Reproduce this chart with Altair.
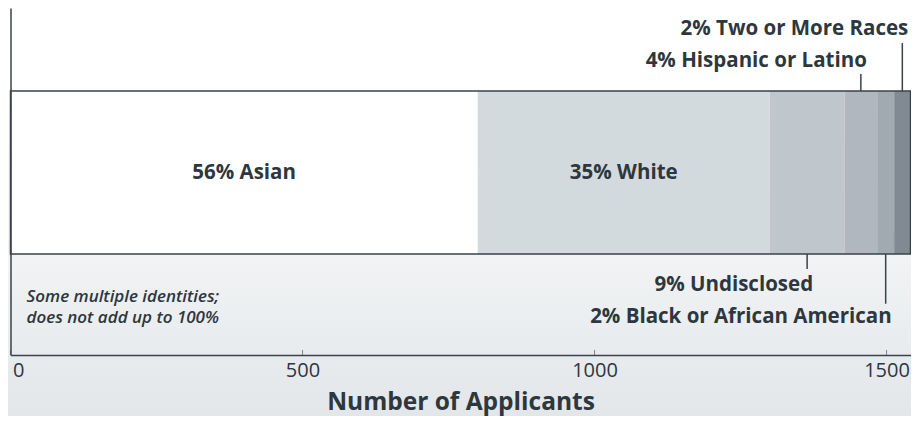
import altair as alt
import pandas as pd

# ---- data ----
categories = ["Asian", "White", "Undisclosed", "Hispanic or Latino",
              "Black or African American", "Two or More Races"]
counts = [800, 500, 128, 56, 29, 28]
percents = [56, 35, 9, 4, 2, 2]
tick_values = [0, 500, 1000, 1500]
note_lines = ["Some multiple identities;", "does not add up to 100%"]
axis_title = "Number of Applicants"

# ---- styles / layout ----
seg_colors = ["#ffffff", "#d3dade", "#bfc6cc", "#b0b7bf", "#a1a9b1", "#818a93"]
label_tier = [0, 0, -1, 1, -2, 2]          # 0 inside, +n above, -n below
tier_text = {0: 0.5, 1: 1.184, 2: 1.380, -1: -0.188, -2: -0.387}
tier_rule = {1: 1.104, 2: 1.294, -1: -0.092, -2: -0.305}
FONT = "Open Sans"
TXT = "#2d373d"
LINE = "#39434a"
W, H = 900, 347
PX = 163.0
Y_DOM = [-(H - 83 - PX) / PX, 1 + 83 / PX]
TOTAL = sum(counts)

df = pd.DataFrame({
    "cat": categories,
    "count": counts,
    "pct": percents,
    "order": list(range(len(categories))),
    "tier": label_tier,
})
df["label"] = [f"{p}% {c}" for p, c in zip(percents, categories)]
df["ty"] = [tier_text[t] for t in label_tier]
df["r0"] = [1.0 if t > 0 else 0.0 for t in label_tier]
df["r1"] = [tier_rule.get(t, 0.5) for t in label_tier]

xs = alt.Scale(domain=[0, TOTAL], nice=False, zero=True)
ys = alt.Scale(domain=Y_DOM, nice=False, zero=False)

base = alt.Chart(df).transform_window(
    cum="sum(count)", sort=[{"field": "order"}], frame=[None, 0]
).transform_calculate(
    start="datum.cum - datum.count",
    mid="datum.cum - datum.count / 2",
)

# background gradient
bg = alt.Chart(pd.DataFrame({"a": [0]})).mark_rect(
    clip=False,
    color={"gradient": "linear", "x1": 0, "y1": 0, "x2": 0, "y2": 1,
           "stops": [{"offset": 0, "color": "#ffffff"},
                     {"offset": 0.23, "color": "#ffffff"},
                     {"offset": 1, "color": "#e1e5e8"}]},
).encode(
    x=alt.value(-20), x2=alt.value(W + 20),
    y=alt.value(-10), y2=alt.value(H + 80),
)

bars = base.mark_rect().encode(
    x=alt.X("start:Q", scale=xs,
            axis=alt.Axis(values=tick_values, format="d", ticks=False, grid=False,
                          zindex=1, domain=True, domainColor=LINE, domainWidth=1.5,
                          labelFont=FONT, labelFontSize=20, labelColor=TXT,
                          labelPadding=5, labelFlush=True, labelFlushOffset=-2,
                          title=axis_title, titleFont=FONT, titleFontSize=24.5,
                          titleFontWeight="bold", titleColor=TXT, titlePadding=10)),
    x2="cum:Q",
    y=alt.Y("lo:Q", scale=ys,
            axis=alt.Axis(domain=True, domainColor=LINE, domainWidth=1.5, zindex=1,
                          ticks=False, labels=False, grid=False, title=None)),
    y2="hi:Q",
    color=alt.Color("cat:N", scale=alt.Scale(domain=categories, range=seg_colors),
                    legend=None),
).transform_calculate(lo="0", hi="1")

outline = alt.Chart(pd.DataFrame({"a": [0]})).mark_rect(
    filled=False, stroke=LINE, strokeWidth=1.5
).encode(
    x=alt.datum(0, scale=xs), x2=alt.datum(TOTAL),
    y=alt.datum(0, scale=ys), y2=alt.datum(1),
)

ticks = alt.Chart(pd.DataFrame({"t": tick_values})).mark_rule(
    color="#7f888e", strokeWidth=1
).encode(
    x=alt.X("t:Q", scale=xs),
    y=alt.datum(Y_DOM[0], scale=ys),
    y2=alt.datum(Y_DOM[0] + 5 / PX),
)

inside = base.transform_filter("datum.tier == 0").mark_text(
    font=FONT, fontSize=20.5, fontWeight="bold", color=TXT,
    align="center", baseline="middle",
).encode(x=alt.X("mid:Q", scale=xs), y=alt.Y("ty:Q", scale=ys), text="label:N")

outer = base.transform_filter("datum.tier != 0").mark_text(
    font=FONT, fontSize=20.5, fontWeight="bold", color=TXT,
    align="right", baseline="middle", dx=6,
).encode(x=alt.X("mid:Q", scale=xs), y=alt.Y("ty:Q", scale=ys), text="label:N")

leaders = base.transform_filter("datum.tier != 0").mark_rule(
    color=LINE, strokeWidth=1.5
).encode(x=alt.X("mid:Q", scale=xs), y=alt.Y("r0:Q", scale=ys), y2="r1:Q")

note = alt.Chart(pd.DataFrame({"a": [0]})).mark_text(
    font=FONT, fontSize=17, fontStyle="italic", fontWeight=600, color=TXT,
    align="left", baseline="alphabetic", lineHeight=21, dx=16,
).encode(
    x=alt.datum(0, scale=xs), y=alt.datum(-0.294, scale=ys),
    text=alt.value(note_lines),
)

chart = alt.layer(bg, bars, outline, ticks, leaders, inside, outer, note).properties(
    width=W, height=H,
    padding={"left": 2.5, "top": 0, "right": 0.5, "bottom": 61},
    autosize=alt.AutoSizeParams(type="none"),
    background="#ffffff",
).configure_view(stroke=None)

chart.save("out.html", embed_options={"renderer": "svg", "actions": False})
